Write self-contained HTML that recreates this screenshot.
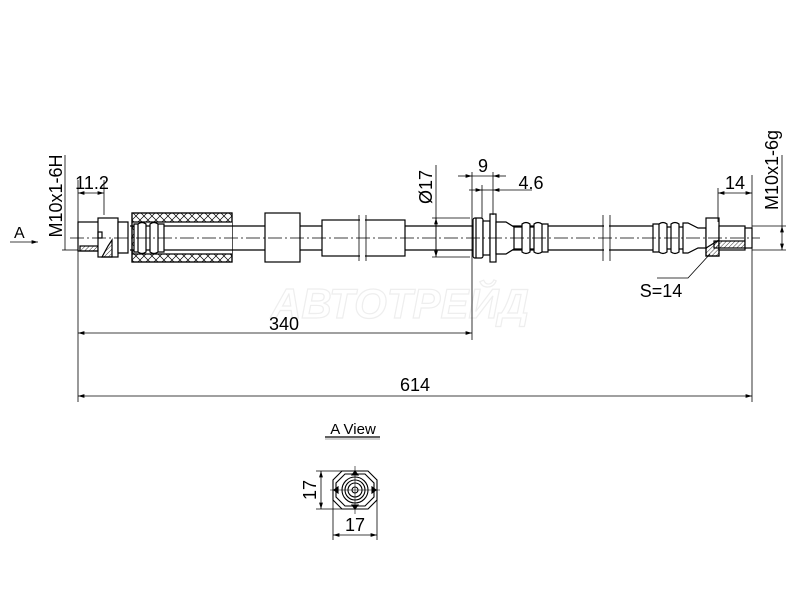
<!DOCTYPE html><html><head><style>body{margin:0;background:#fff}svg{display:block}text{font-family:"Liberation Sans",sans-serif;fill:#000}</style></head><body>
<svg width="800" height="600" viewBox="0 0 800 600" xmlns="http://www.w3.org/2000/svg">
<defs>
<pattern id="x" width="8" height="8" patternUnits="userSpaceOnUse"><path d="M0 0L8 8M8 0L0 8" stroke="#000" stroke-width="0.7"/></pattern>
<pattern id="h" width="3" height="3" patternUnits="userSpaceOnUse" patternTransform="rotate(45)"><line x1="0" y1="0" x2="0" y2="3" stroke="#000" stroke-width="0.8"/></pattern>
<marker id="a" viewBox="0 0 10 6" refX="10" refY="3" markerWidth="8" markerHeight="5" orient="auto-start-reverse"><path d="M0 0L10 3L0 6z" fill="#000"/></marker>
</defs>
<text x="400" y="318" font-size="42" font-weight="bold" font-style="italic" text-anchor="middle" stroke="#eeeeee" stroke-width="1.2" style="fill:none">АВТОТРЕЙД</text>
<g stroke="#000" stroke-width="1.2" fill="none">
<line x1="130" y1="226" x2="655" y2="226"/><line x1="130" y1="250" x2="655" y2="250"/>
<rect x="78" y="222" width="22" height="29" fill="#fff"/>
<rect x="80" y="246" width="18" height="5" fill="url(#h)"/>
<rect x="98" y="218" width="20" height="39" fill="#fff"/>
<rect x="98" y="232" width="4" height="6"/>
<path d="M102 257 L108 246 L112 240 L112 257z" fill="url(#h)"/>
<path d="M118 222 h10 v31 h-10z" fill="#fff"/>
<rect x="132" y="213" width="100" height="49" fill="url(#x)"/>
<rect x="132" y="213" width="100" height="49"/>
<rect x="134" y="222" width="98" height="32" fill="#fff" stroke="none"/>
<line x1="132" y1="222" x2="232" y2="222"/><line x1="132" y1="254" x2="232" y2="254"/>
<path d="M134 224 h4 v28 h-4z M138 224 q4-3 8 0 v28 q-4 3-8 0z M146 226 h4 v24 h-4z M150 224 q4-3 8 0 v28 q-4 3-8 0z M158 224 h6 v28 h-6z" fill="#fff"/>
<line x1="164" y1="226" x2="232" y2="226"/><line x1="164" y1="250" x2="232" y2="250"/>
<rect x="265" y="213" width="35" height="49" fill="#fff"/>
<rect x="322" y="220" width="83" height="36" fill="#fff"/>
<line x1="359" y1="215" x2="359" y2="261" stroke-width="0.8"/><line x1="366" y1="215" x2="366" y2="261" stroke-width="0.8"/>
<rect x="360" y="219" width="5" height="38" fill="#fff" stroke="none"/>
<rect x="473" y="218" width="10" height="40" rx="2" fill="#fff"/>
<line x1="476" y1="218" x2="476" y2="258"/>
<rect x="483" y="221" width="7" height="34" fill="#fff"/>
<rect x="490" y="214" width="6" height="48" fill="#fff"/>
<path d="M496 222 h10 l8 5 v22 l-8 5 h-10z M514 227 h8 v22 h-8z M522 224 q4-3 8 0 v28 q-4 3-8 0z M530 227 h4 v22 h-4z M534 224 q4-3 8 0 v28 q-4 3-8 0z M542 224 h6 v28 h-6z" fill="#fff"/>
<line x1="603" y1="215" x2="603" y2="261" stroke-width="0.8"/><line x1="610" y1="215" x2="610" y2="261" stroke-width="0.8"/>
<rect x="604" y="220" width="5" height="36" fill="#fff" stroke="none"/>
<path d="M653 224 h6 v28 h-6z M659 224 q4-3 8 0 v28 q-4 3-8 0z M667 227 h4 v22 h-4z M671 224 q4-3 8 0 v28 q-4 3-8 0z M679 227 h4 v22 h-4z M683 223 h5 l10 5 h8 v20 h-8 l-10 5 h-5z" fill="#fff"/>
<rect x="706" y="218" width="13" height="38" fill="#fff"/>
<path d="M706 248 l13-8 v16 h-13z" fill="url(#h)"/>
<rect x="719" y="226" width="26" height="24" fill="#fff"/>
<rect x="714" y="241" width="32" height="7" fill="url(#h)"/>
<rect x="745" y="228" width="7" height="20" fill="#fff"/>
</g>
<line x1="70" y1="238" x2="760" y2="238" stroke="#000" stroke-width="0.7" stroke-dasharray="14,3,2,3"/>
<g stroke="#000" stroke-width="0.8" fill="none">
<line x1="78" y1="180" x2="78" y2="402"/><line x1="104" y1="180" x2="104" y2="215"/>
<line x1="78" y1="193" x2="104" y2="193" marker-start="url(#a)" marker-end="url(#a)"/>
<line x1="65" y1="155" x2="65" y2="250"/><line x1="62" y1="250" x2="78" y2="250"/>
<line x1="10" y1="242" x2="38" y2="242" marker-end="url(#a)"/>
<line x1="436" y1="165" x2="436" y2="255"/>
<line x1="432" y1="218" x2="470" y2="218"/><line x1="432" y1="257" x2="470" y2="257"/>
<line x1="436" y1="218" x2="436" y2="257" marker-start="url(#a)" marker-end="url(#a)"/>
<line x1="472" y1="172" x2="472" y2="340"/><line x1="493" y1="172" x2="493" y2="215"/><line x1="482" y1="185" x2="482" y2="218"/>
<line x1="458" y1="176" x2="472" y2="176" marker-end="url(#a)"/><line x1="493" y1="176" x2="506" y2="176" marker-start="url(#a)"/><line x1="472" y1="176" x2="493" y2="176"/>
<line x1="469" y1="190" x2="482" y2="190" marker-end="url(#a)"/><line x1="493" y1="190" x2="532" y2="190" marker-start="url(#a)"/><line x1="482" y1="190" x2="493" y2="190"/>
<line x1="718" y1="188" x2="718" y2="222"/><line x1="752" y1="175" x2="752" y2="402"/>
<line x1="718" y1="193" x2="752" y2="193" marker-start="url(#a)" marker-end="url(#a)"/>
<line x1="752" y1="226" x2="786" y2="226"/><line x1="752" y1="250" x2="786" y2="250"/>
<line x1="782" y1="226" x2="782" y2="250" marker-start="url(#a)" marker-end="url(#a)"/>
<line x1="782" y1="155" x2="782" y2="226"/>
<polyline points="710,254 688,278 657,278"/>
<line x1="78" y1="333" x2="472" y2="333" marker-start="url(#a)" marker-end="url(#a)"/>
<line x1="78" y1="396" x2="752" y2="396" marker-start="url(#a)" marker-end="url(#a)"/>
<line x1="325" y1="437" x2="380" y2="437" stroke-width="1.2"/><line x1="325" y1="439" x2="380" y2="439" stroke="#888"/>
<line x1="316" y1="471" x2="352" y2="471"/><line x1="316" y1="509" x2="352" y2="509"/>
<line x1="321" y1="471" x2="321" y2="509" marker-start="url(#a)" marker-end="url(#a)"/>
<line x1="333" y1="490" x2="333" y2="540"/><line x1="377" y1="490" x2="377" y2="540"/>
<line x1="333" y1="535" x2="377" y2="535" marker-start="url(#a)" marker-end="url(#a)"/>
</g>
<g stroke="#000" stroke-width="1.1" fill="none">
<polygon points="342,471 368,471 377,480 377,500 368,509 342,509 333,500 333,480"/>
<polygon points="345,474 365,474 374,483 374,497 365,506 345,506 336,497 336,483"/>
<circle cx="355" cy="490" r="13"/><circle cx="355" cy="490" r="10"/><circle cx="355" cy="490" r="7"/><circle cx="355" cy="490" r="3"/>
<line x1="330" y1="490" x2="380" y2="490" stroke-width="0.6"/><line x1="355" y1="466" x2="355" y2="514" stroke-width="0.6"/>
<path d="M352 475 l3-4 3 4z M352 505 l3 4 3-4z M338 487 l-4 3 4 3z M372 487 l4 3-4 3z" fill="#000"/>
</g>
<g font-size="18">
<text x="92" y="189" text-anchor="middle">11.2</text>
<text transform="translate(62,196) rotate(-90)" text-anchor="middle">M10x1-6H</text>
<text x="14" y="238" font-size="16">A</text>
<text transform="translate(432,187) rotate(-90)" text-anchor="middle">Ø17</text>
<text x="483" y="172" text-anchor="middle">9</text>
<text x="531" y="189" text-anchor="middle">4.6</text>
<text x="735" y="189" text-anchor="middle">14</text>
<text transform="translate(778,170) rotate(-90)" text-anchor="middle">M10x1-6g</text>
<text x="661" y="297" text-anchor="middle">S=14</text>
<text x="284" y="330" text-anchor="middle">340</text>
<text x="415" y="391" text-anchor="middle">614</text>
<text x="353" y="434" text-anchor="middle" font-size="15">A View</text>
<text transform="translate(316,490) rotate(-90)" text-anchor="middle">17</text>
<text x="355" y="531" text-anchor="middle">17</text>
</g>
</svg>
</body></html>
